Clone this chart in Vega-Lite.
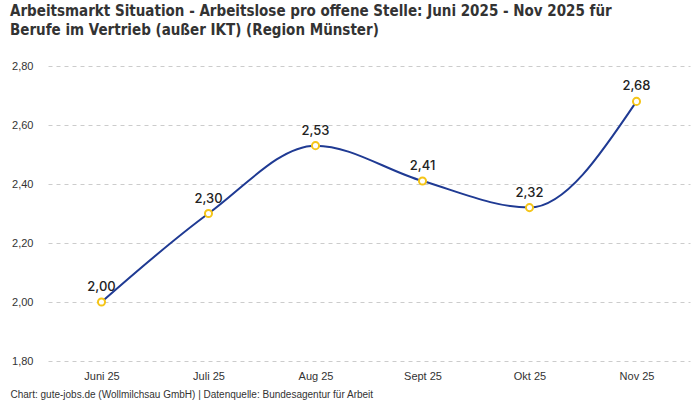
{
  "$schema": "https://vega.github.io/schema/vega-lite/v6.json",
  "autosize": "none",
  "width": 642,
  "height": 295,
  "padding": {"left": 48, "top": 66, "right": 10, "bottom": 39},
  "background": "white",
  "config": {
    "locale": {"number": {"decimal": ",", "thousands": ".", "grouping": [3], "currency": ["", " €"]}},
    "view": {"stroke": null},
    "font": "Liberation Sans"
  },
  "title": {
    "text": ["Arbeitsmarkt Situation - Arbeitslose pro offene Stelle: Juni 2025 - Nov 2025 für", "Berufe im Vertrieb (außer IKT) (Region Münster)"],
    "anchor": "start",
    "frame": "group",
    "dx": -38,
    "offset": 22,
    "font": "DejaVu Sans Condensed",
    "fontSize": 15,
    "fontWeight": "bold",
    "color": "#333333",
    "lineHeight": 19
  },
  "data": {
    "values": [
      {"monat": "Juni 25", "wert": 2.00},
      {"monat": "Juli 25", "wert": 2.30},
      {"monat": "Aug 25", "wert": 2.53},
      {"monat": "Sept 25", "wert": 2.41},
      {"monat": "Okt 25", "wert": 2.32},
      {"monat": "Nov 25", "wert": 2.68}
    ]
  },
  "encoding": {
    "x": {
      "field": "monat",
      "type": "ordinal",
      "sort": null,
      "scale": {"type": "point", "padding": 0.5},
      "axis": {
        "labelAngle": 0,
        "domain": false,
        "ticks": false,
        "labelPadding": 9,
        "labelFontSize": 11,
        "labelColor": "#333333",
        "title": "Chart: gute-jobs.de (Wollmilchsau GmbH) | Datenquelle: Bundesagentur für Arbeit",
        "titleAnchor": "start",
        "titleAlign": "left",
        "titleX": -38,
        "titleY": 28,
        "titleFontSize": 10,
        "titleFontWeight": "normal",
        "titleColor": "#333333"
      }
    },
    "y": {
      "field": "wert",
      "type": "quantitative",
      "scale": {"domain": [1.8, 2.8], "nice": false, "zero": false},
      "axis": {
        "values": [1.8, 2.0, 2.2, 2.4, 2.6, 2.8],
        "format": ".2f",
        "title": null,
        "domain": false,
        "ticks": false,
        "labelPadding": 15,
        "labelFontSize": 11,
        "labelColor": "#333333",
        "grid": true,
        "gridColor": "#cccccc",
        "gridDash": [4, 4]
      }
    }
  },
  "layer": [
    {
      "mark": {"type": "line", "interpolate": "monotone", "color": "#1f3a93", "strokeWidth": 2}
    },
    {
      "mark": {"type": "point", "filled": true, "fill": "white", "stroke": "#f5c518", "strokeWidth": 2, "size": 50, "opacity": 1}
    },
    {
      "mark": {"type": "text", "dy": -15, "font": "Inter", "fontSize": 13, "fontWeight": 500, "color": "#222222"},
      "encoding": {"text": {"field": "wert", "type": "quantitative", "format": ".2f"}}
    }
  ]
}
